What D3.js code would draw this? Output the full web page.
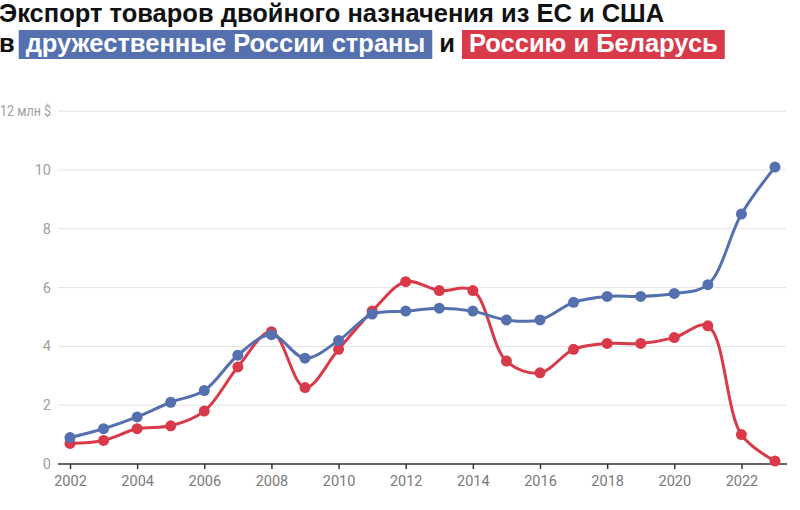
<!DOCTYPE html>
<html><head><meta charset="utf-8">
<script src="https://cdn.jsdelivr.net/npm/d3@7"></script>
<style>
html,body{margin:0;padding:0;background:#fff;overflow:hidden}
svg{display:block}
</style></head>
<body>
<svg id="chart" width="800" height="510"></svg>
<script>
const years = [2002,2003,2004,2005,2006,2007,2008,2009,2010,2011,2012,2013,2014,2015,2016,2017,2018,2019,2020,2021,2022,2023];
const friendly = [0.9,1.2,1.6,2.1,2.5,3.7,4.4,3.6,4.2,5.1,5.2,5.3,5.2,4.9,4.9,5.5,5.7,5.7,5.8,6.1,8.5,10.1];
const russiaBelarus = [0.7,0.8,1.2,1.3,1.8,3.3,4.5,2.6,3.9,5.2,6.2,5.9,5.9,3.5,3.1,3.9,4.1,4.1,4.3,4.7,1.0,0.1];
const yTicks = [0,2,4,6,8,10,12];
const xTicks = [2002,2004,2006,2008,2010,2012,2014,2016,2018,2020,2022];
const titleLine1 = "Экспорт товаров двойного назначения из ЕС и США";
const titleParts = [
  {text:"в", bg:null},
  {text:"дружественные России страны", bg:"#5470ae"},
  {text:"и", bg:null},
  {text:"Россию и Беларусь", bg:"#d93a4a"}
];
const BLUE = "#5470ae", RED = "#d93a4a";

const svg = d3.select("#chart");
const x = d3.scaleLinear().domain([2002,2023]).range([70,775]);
const y = d3.scaleLinear().domain([0,12]).range([464,111.2]);

// gridlines
const grid = svg.append("g");
grid.selectAll("line").data(yTicks.filter(d=>d>0)).join("line")
  .attr("x1",58).attr("x2",786)
  .attr("y1",d=>y(d)).attr("y2",d=>y(d))
  .attr("stroke","#e3e3e3").attr("stroke-width",1);

// y labels
const yl = svg.append("g").selectAll("text").data(yTicks).join("text")
  .attr("x",51).attr("y",d=>y(d)).attr("dy","0.35em")
  .attr("text-anchor","end")
  .attr("font-family","Roboto, sans-serif").attr("font-size",14.5)
  .attr("fill","#a0a0a0")
  .text(d=> d===12 ? "12 млн $" : d);
yl.filter(d=>d===12).attr("textLength",51).attr("lengthAdjust","spacingAndGlyphs");

// x axis
const xAxis = d3.axisBottom(x).tickValues(xTicks).tickFormat(d3.format("d")).tickSize(5).tickPadding(7).tickSizeOuter(0);
const gx = svg.append("g").attr("transform",`translate(0,${y(0)})`).call(xAxis);
gx.select(".domain").attr("d",`M58,0H787`).attr("stroke","#333").attr("stroke-width",1.5);
gx.selectAll(".tick line").attr("stroke","#333").attr("stroke-width",1.5);
gx.selectAll(".tick text").attr("font-family","Roboto, sans-serif").attr("font-size",14.5).attr("fill","#7a7a7a");

// lines (red below blue)
const series = [
  {vals:russiaBelarus,color:RED},
  {vals:friendly,color:BLUE}
];
const line = d3.line().x((d,i)=>x(years[i])).y(d=>y(d)).curve(d3.curveCatmullRom.alpha(0.5));
series.forEach(s=>{
  svg.append("path").datum(s.vals).attr("d",line)
    .attr("fill","none").attr("stroke",s.color).attr("stroke-width",3)
    .attr("stroke-linejoin","round").attr("stroke-linecap","round");
});
series.forEach(s=>{
  svg.append("g").selectAll("circle").data(s.vals).join("circle")
    .attr("cx",(d,i)=>x(years[i])).attr("cy",d=>y(d)).attr("r",5.5)
    .attr("fill",s.color);
});

// title
const tf = "'Liberation Sans', Arial, Helvetica, sans-serif";
const FS = 25.5;
svg.append("text").attr("x",-1).attr("y",22)
  .attr("font-family",tf).attr("font-weight","bold").attr("font-size",FS)
  .attr("fill","#111").text(titleLine1);

const t2 = svg.append("g");
let cx = -1;
const gaps = [4, 7, 7, 0];
const PAD = 7;
titleParts.forEach((p,i)=>{
  if(p.bg){
    const rect = t2.append("rect").attr("fill",p.bg);
    const tx = t2.append("text").attr("x",cx+PAD).attr("y",52)
      .attr("font-family",tf).attr("font-weight","bold").attr("font-size",FS)
      .attr("fill","#fff").text(p.text);
    const w = tx.node().getComputedTextLength();
    rect.attr("x",cx).attr("y",30).attr("width",w+2*PAD).attr("height",29);
    cx += w + 2*PAD + gaps[i];
  } else {
    const tx = t2.append("text").attr("x",cx).attr("y",52)
      .attr("font-family",tf).attr("font-weight","bold").attr("font-size",FS)
      .attr("fill","#111").text(p.text);
    cx += tx.node().getComputedTextLength() + gaps[i];
  }
});
</script>
</body></html>
